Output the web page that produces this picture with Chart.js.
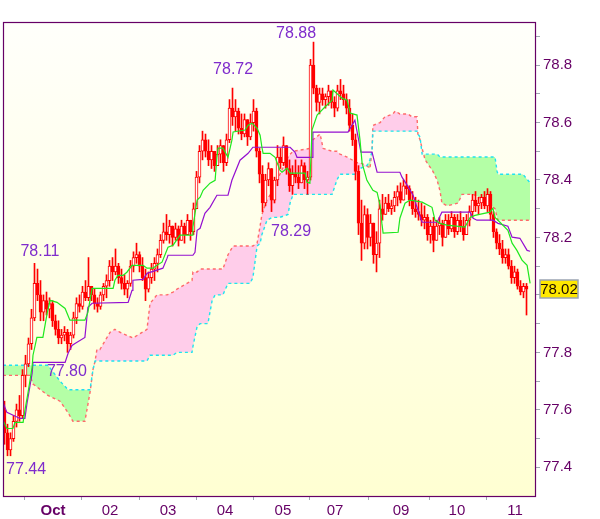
<!DOCTYPE html>
<html>
<head>
<meta charset="utf-8">
<title>Ichimoku</title>
<script src="https://cdn.jsdelivr.net/npm/chart.js@4.4.1/dist/chart.umd.min.js"></script>
<style>
    html, body { margin: 0; padding: 0; background: #ffffff; }
    canvas { display: block; }
</style>
</head>
<body>
<canvas id="ichimoku" width="600" height="519"></canvas>
<script>

/* =========================
   DATA (hourly bars)
========================= */

const opens = [
    77.60, 77.52, 77.46, 77.50, 77.56, 77.60, 77.58, 77.72, 77.76, 77.83,
    77.92, 78.04, 78.00, 77.94, 77.98, 77.95, 77.97, 77.91, 77.88, 77.85,
    77.86, 77.87, 77.83, 77.86, 77.92, 77.97, 77.96, 78.01, 77.99, 78.03,
    78.00, 77.97, 77.96, 78.00, 78.03, 78.05, 78.10, 78.08, 78.10, 78.06,
    78.04, 78.02, 78.04, 78.10, 78.13, 78.14, 78.10, 78.06, 78.02, 78.06,
    78.09, 78.11, 78.14, 78.19, 78.22, 78.21, 78.24, 78.20, 78.23, 78.19,
    78.24, 78.21, 78.26, 78.22, 78.30, 78.41, 78.50, 78.54, 78.50, 78.47,
    78.50, 78.45, 78.49, 78.52, 78.46, 78.54, 78.65, 78.62, 78.64, 78.58,
    78.56, 78.61, 78.55, 78.60, 78.64, 78.50, 78.42, 78.32, 78.40, 78.44,
    78.33, 78.40, 78.48, 78.46, 78.52, 78.44, 78.38, 78.42, 78.41, 78.39,
    78.45, 78.40, 78.41, 78.80, 78.72, 78.67, 78.70, 78.68, 78.69, 78.71,
    78.67, 78.65, 78.71, 78.70, 78.68, 78.65, 78.59, 78.54, 78.43, 78.25,
    78.18, 78.28, 78.20, 78.25, 78.14, 78.18, 78.30, 78.28, 78.32, 78.30,
    78.31, 78.34, 78.36, 78.33, 78.38, 78.37, 78.33, 78.30, 78.29, 78.28,
    78.26, 78.27, 78.21, 78.24, 78.19, 78.24, 78.25, 78.20, 78.26, 78.23,
    78.27, 78.22, 78.26, 78.24, 78.21, 78.26, 78.29, 78.33, 78.31, 78.32,
    78.34, 78.31, 78.35, 78.28, 78.22, 78.18, 78.16, 78.13, 78.14, 78.10,
    78.06, 78.08, 78.03, 78.01, 78.03
];

const highs = [
    77.63, 77.55, 77.52, 77.58, 77.62, 77.65, 77.74, 77.79, 77.85, 77.95,
    78.11, 78.09, 78.05, 78.00, 78.01, 77.99, 77.98, 77.93, 77.91, 77.88,
    77.89, 77.88, 77.87, 77.94, 77.99, 78.00, 78.03, 78.05, 78.13, 78.03,
    78.02, 77.99, 78.01, 78.04, 78.07, 78.12, 78.13, 78.16, 78.11, 78.09,
    78.07, 78.05, 78.12, 78.15, 78.18, 78.15, 78.13, 78.09, 78.08, 78.11,
    78.13, 78.16, 78.21, 78.25, 78.28, 78.26, 78.24, 78.25, 78.24, 78.26,
    78.25, 78.28, 78.26, 78.32, 78.43, 78.52, 78.57, 78.56, 78.54, 78.52,
    78.50, 78.52, 78.54, 78.52, 78.56, 78.68, 78.72, 78.68, 78.65, 78.63,
    78.63, 78.61, 78.63, 78.68, 78.65, 78.51, 78.45, 78.42, 78.46, 78.44,
    78.41, 78.52, 78.51, 78.55, 78.52, 78.47, 78.45, 78.47, 78.45, 78.47,
    78.46, 78.43, 78.82, 78.88, 78.73, 78.72, 78.72, 78.70, 78.73, 78.71,
    78.69, 78.73, 78.75, 78.73, 78.70, 78.68, 78.63, 78.56, 78.45, 78.33,
    78.31, 78.30, 78.28, 78.25, 78.22, 78.33, 78.35, 78.34, 78.35, 78.33,
    78.36, 78.38, 78.39, 78.40, 78.42, 78.38, 78.36, 78.34, 78.33, 78.32,
    78.31, 78.28, 78.26, 78.27, 78.26, 78.27, 78.26, 78.28, 78.28, 78.29,
    78.28, 78.28, 78.29, 78.27, 78.28, 78.31, 78.35, 78.36, 78.34, 78.35,
    78.36, 78.37, 78.36, 78.29, 78.23, 78.21, 78.19, 78.16, 78.16, 78.12,
    78.10, 78.09, 78.05, 78.04, 78.04
];

const lows = [
    77.48, 77.44, 77.44, 77.49, 77.54, 77.56, 77.57, 77.68, 77.75, 77.81,
    77.91, 77.98, 77.91, 77.91, 77.93, 77.92, 77.89, 77.86, 77.83, 77.83,
    77.84, 77.80, 77.81, 77.85, 77.90, 77.94, 77.95, 77.98, 77.98, 77.98,
    77.95, 77.94, 77.95, 77.98, 77.99, 78.03, 78.05, 78.07, 78.04, 78.02,
    78.00, 77.99, 78.03, 78.08, 78.11, 78.08, 78.05, 77.98, 78.01, 78.04,
    78.05, 78.08, 78.13, 78.18, 78.19, 78.18, 78.17, 78.19, 78.17, 78.19,
    78.18, 78.21, 78.19, 78.21, 78.30, 78.39, 78.47, 78.48, 78.45, 78.44,
    78.43, 78.45, 78.46, 78.43, 78.45, 78.53, 78.59, 78.57, 78.56, 78.54,
    78.55, 78.52, 78.54, 78.57, 78.48, 78.39, 78.29, 78.31, 78.38, 78.29,
    78.32, 78.38, 78.44, 78.45, 78.42, 78.36, 78.35, 78.39, 78.37, 78.39,
    78.37, 78.35, 78.40, 78.70, 78.64, 78.63, 78.66, 78.65, 78.66, 78.65,
    78.62, 78.64, 78.68, 78.66, 78.63, 78.57, 78.52, 78.40, 78.21, 78.12,
    78.16, 78.16, 78.17, 78.11, 78.08, 78.13, 78.26, 78.28, 78.29, 78.28,
    78.29, 78.31, 78.32, 78.33, 78.35, 78.31, 78.28, 78.27, 78.26, 78.24,
    78.23, 78.19, 78.18, 78.15, 78.19, 78.21, 78.17, 78.20, 78.21, 78.22,
    78.20, 78.21, 78.22, 78.19, 78.21, 78.24, 78.27, 78.29, 78.28, 78.30,
    78.30, 78.29, 78.26, 78.20, 78.16, 78.14, 78.11, 78.11, 78.09, 78.04,
    78.04, 78.02, 78.00, 77.99, 77.93
];

const closes = [
    77.52, 77.46, 77.50, 77.56, 77.60, 77.58, 77.72, 77.76, 77.83, 77.92,
    78.04, 78.00, 77.94, 77.98, 77.95, 77.97, 77.91, 77.88, 77.85, 77.86,
    77.87, 77.83, 77.86, 77.92, 77.97, 77.96, 78.01, 77.99, 78.03, 78.00,
    77.97, 77.96, 78.00, 78.03, 78.05, 78.10, 78.08, 78.10, 78.06, 78.04,
    78.02, 78.04, 78.10, 78.13, 78.14, 78.10, 78.06, 78.02, 78.06, 78.09,
    78.11, 78.14, 78.19, 78.22, 78.21, 78.24, 78.20, 78.23, 78.19, 78.24,
    78.21, 78.26, 78.22, 78.30, 78.41, 78.50, 78.54, 78.50, 78.47, 78.50,
    78.45, 78.49, 78.52, 78.46, 78.54, 78.65, 78.62, 78.64, 78.58, 78.56,
    78.61, 78.55, 78.60, 78.64, 78.50, 78.42, 78.32, 78.40, 78.44, 78.33,
    78.40, 78.48, 78.46, 78.52, 78.44, 78.38, 78.42, 78.41, 78.39, 78.45,
    78.40, 78.41, 78.80, 78.72, 78.67, 78.70, 78.68, 78.69, 78.71, 78.67,
    78.65, 78.71, 78.70, 78.68, 78.65, 78.59, 78.54, 78.43, 78.25, 78.18,
    78.28, 78.20, 78.25, 78.14, 78.18, 78.30, 78.28, 78.32, 78.30, 78.31,
    78.34, 78.36, 78.33, 78.38, 78.37, 78.33, 78.30, 78.29, 78.28, 78.26,
    78.27, 78.21, 78.24, 78.19, 78.24, 78.25, 78.20, 78.26, 78.23, 78.27,
    78.22, 78.26, 78.24, 78.21, 78.26, 78.29, 78.33, 78.31, 78.32, 78.34,
    78.31, 78.35, 78.28, 78.22, 78.18, 78.16, 78.13, 78.14, 78.10, 78.06,
    78.08, 78.03, 78.01, 78.03, 78.02
];

/* Tenkan-sen (green) */
const tenkanX = [
    0, 1.3, 3.3, 4, 6.7, 7.3, 8.3, 9.7, 10, 11.3, 13.3, 14.7, 15.7, 18, 20.7, 22.3,
    27.3, 28.3, 29.7, 36.7, 37.3, 38.3, 40, 41.3, 43, 46.7, 48, 50, 51.3, 53, 55,
    56.7, 59, 63, 63.3, 64.7, 65.7, 66.7, 69, 70.7, 71.3, 71.7, 73.3, 75, 76.3,
    76.7, 80.7, 81.7, 83, 84.7, 85.7, 86.3, 86.7, 89, 90.7, 92.3, 93, 94.7, 95.7,
    100.7, 101.3, 102.3, 103, 104.7, 107.3, 109.7, 110, 113, 114.7, 115.7, 118,
    119, 119.7, 121.3, 123.3, 124.7, 125.7, 126.3, 126.7, 131.7, 132.3, 134,
    135.7, 139.7, 143, 144, 145.7, 148, 154, 155.7, 157.3, 162.3, 163.3, 164,
    165, 168.3, 169.7, 171.3, 173, 174.7, 175.7
];
const tenkan = [
    77.563, 77.535, 77.535, 77.556, 77.556, 77.598, 77.657, 77.748, 77.790, 77.852,
    77.852, 77.936, 77.981, 77.974, 77.953, 77.912, 77.912, 77.939, 78.023, 78.023,
    78.051, 78.068, 78.068, 78.079, 78.103, 78.103, 78.093, 78.093, 78.103, 78.114,
    78.166, 78.173, 78.208, 78.208, 78.236, 78.330, 78.340, 78.364, 78.389, 78.399,
    78.479, 78.511, 78.511, 78.479, 78.539, 78.567, 78.574, 78.591, 78.598, 78.580,
    78.556, 78.514, 78.493, 78.493, 78.479, 78.434, 78.427, 78.441, 78.424, 78.424,
    78.392, 78.389, 78.574, 78.626, 78.654, 78.678, 78.713, 78.685, 78.678, 78.633,
    78.626, 78.539, 78.459, 78.399, 78.364, 78.357, 78.312, 78.249, 78.215, 78.218,
    78.267, 78.319, 78.330, 78.323, 78.305, 78.260, 78.249, 78.243, 78.236, 78.270,
    78.277, 78.288, 78.302, 78.270, 78.260, 78.225, 78.180, 78.155, 78.121, 78.103,
    78.040
];

/* Kijun-sen (purple) */
const kijunX = [
    0, 1.3, 5.7, 7.3, 8, 9.7, 10, 20.7, 21.7, 23, 24, 27.3, 28.3, 29.7, 41.7, 43,
    43.3, 46.7, 48, 53.3, 54.7, 55, 63.3, 64, 64.7, 65.7, 67.3, 69, 71.3, 75, 76.3,
    79, 81.7, 83.3, 95.7, 97.3, 98, 103, 103.3, 115, 117.3, 119.3, 123, 124.7,
    132.3, 133, 134.7, 136.7, 138, 139.7, 144.7, 146.3, 155.7, 156.7, 158, 163.3,
    165, 168.3, 169.7, 172.3, 174.7, 175.7
];
const kijun = [
    77.626, 77.591, 77.570, 77.570, 77.622, 77.727, 77.765, 77.765, 77.797, 77.824,
    77.831, 77.852, 77.957, 77.971, 77.974, 78.016, 78.051, 78.054, 78.075, 78.093,
    78.128, 78.138, 78.138, 78.148, 78.225, 78.232, 78.284, 78.305, 78.347, 78.347,
    78.399, 78.469, 78.493, 78.514, 78.514, 78.497, 78.479, 78.479, 78.567, 78.567,
    78.608, 78.497, 78.497, 78.427, 78.427, 78.410, 78.382, 78.347, 78.305, 78.253,
    78.253, 78.288, 78.288, 78.267, 78.260, 78.260, 78.249, 78.239, 78.201, 78.197,
    78.155, 78.152
];

/* Senkou span A / B (cloud) */
const cloudX = [
    0, 9, 10, 15, 19, 21.7, 23.3, 27.3, 29, 30, 30.7, 31.3, 32.3, 35.7, 37.3, 39,
    43.3, 48, 49, 51.3, 54.7, 56.7, 58, 63, 63.3, 64.7, 65.7, 68.3, 69.7, 70.7,
    73.3, 75, 76.7, 82.3, 83.3, 84.7, 85.7, 86.3, 88, 89.7, 92.3, 95, 95.7, 96.7,
    102.3, 103.3, 105.7, 106.7, 109.7, 111.3, 112.3, 114.7, 118, 119, 121.3, 122.3,
    123, 123.3, 125.7, 127.3, 130, 130.7, 132.3, 135, 136.3, 138, 138.3, 139,
    139.7, 140.7, 143.3, 144.7, 145.7, 146.3, 148, 151.7, 153, 156.7, 160.7, 164,
    164.7, 165, 173.3, 175.7
];
const spanA = [
    77.72, 77.72, 77.69, 77.65, 77.63, 77.59, 77.56, 77.56, 77.66, 77.74,
    77.77, 77.81, 77.81, 77.87, 77.88, 77.87, 77.85, 77.88, 77.97, 78.00,
    78.00, 78.01, 78.02, 78.05, 78.08, 78.08, 78.09, 78.09, 78.09, 78.09,
    78.09, 78.14, 78.17, 78.17, 78.17, 78.18, 78.24, 78.28, 78.33, 78.36,
    78.42, 78.48, 78.49, 78.50, 78.51, 78.54, 78.56, 78.51, 78.50, 78.50,
    78.49, 78.48, 78.46, 78.46, 78.45, 78.44, 78.50, 78.59, 78.60, 78.62,
    78.63, 78.64, 78.63, 78.63, 78.62, 78.62, 78.56, 78.54, 78.51, 78.47,
    78.43, 78.40, 78.36, 78.32, 78.31, 78.32, 78.35, 78.35, 78.33, 78.30,
    78.27, 78.26, 78.26, 78.26
];
const spanB = [
    77.755, 77.755, 77.755, 77.755, 77.70, 77.67, 77.67, 77.67, 77.67, 77.74,
    77.77, 77.77, 77.77, 77.77, 77.77, 77.77, 77.77, 77.77, 77.79, 77.79,
    77.79, 77.79, 77.80, 77.80, 77.82, 77.89, 77.90, 77.90, 77.98, 78.00,
    78.00, 78.04, 78.04, 78.04, 78.06, 78.17, 78.18, 78.21, 78.26, 78.27,
    78.27, 78.28, 78.32, 78.35, 78.35, 78.35, 78.35, 78.35, 78.35, 78.40,
    78.42, 78.42, 78.42, 78.44, 78.45, 78.47, 78.50, 78.57, 78.57, 78.57,
    78.57, 78.57, 78.57, 78.57, 78.57, 78.57, 78.56, 78.55, 78.49, 78.49,
    78.49, 78.49, 78.48, 78.48, 78.48, 78.48, 78.48, 78.48, 78.48, 78.48,
    78.43, 78.42, 78.42, 78.39
];

/* axes */
const xTickPos = [16.7, 35.7, 55, 74, 93.3, 110.7, 132.7, 151.3, 170.7];
const xTickLabels = ["Oct", "02", "03", "04", "05", "07", "09", "10", "11"];

const yTicks = [77.4, 77.5, 77.6, 77.7, 77.8, 77.9, 78.0, 78.1, 78.2, 78.3, 78.4, 78.5, 78.6, 78.7, 78.8, 78.9];
const yTickLabels = ["77.4", "", "77.6", "", "77.8", "", "", "", "78.2", "", "78.4", "", "78.6", "", "78.8", ""];

/* high / low notes: [x, price] where the text sits */
const noteText = ["78.88", "78.72", "78.11", "78.29", "77.80", "77.44"];
const noteAt = [[97.7, 78.911], [76.7, 78.786], [12.3, 78.152], [96, 78.222], [21.3, 77.734], [7.7, 77.392]];

/* =========================
   DATASETS
========================= */

function points(xs, ys) {
    return xs.map((x, i) => ({ x: x, y: ys[i] }));
}

const wicks = highs.map((h, i) => ({ x: i + 0.5, y: [lows[i], h] }));
const bodies = opens.map((o, i) => ({ x: i + 0.5, y: [o, closes[i]] }));
const bodyFill = opens.map((o, i) => closes[i] >= o ? "#ffffff" : "#ff0000");

const datasets = [
    {
        type: "line",
        data: points(cloudX, spanA),
        borderColor: "#ff6a6a",
        borderWidth: 1.4,
        borderDash: [3, 3],
        pointRadius: 0,
        tension: 0,
        fill: { target: "+1", above: "#ffcdea", below: "#b4ffa6" },
        order: 6
    },
    {
        type: "line",
        data: points(cloudX, spanB),
        borderColor: "#1fe3f0",
        borderWidth: 1.4,
        borderDash: [3, 3],
        pointRadius: 0,
        tension: 0,
        fill: false,
        order: 5
    },
    {
        type: "bar",
        data: wicks,
        backgroundColor: "#ff0000",
        borderWidth: 0,
        barThickness: 1,
        grouped: false,
        order: 4
    },
    {
        type: "bar",
        data: bodies,
        backgroundColor: bodyFill,
        borderColor: "#ff0000",
        borderWidth: 1,
        borderSkipped: false,
        barThickness: 3,
        minBarLength: 1,
        grouped: false,
        order: 3
    },
    {
        type: "line",
        data: points(kijunX, kijun),
        borderColor: "#9410d0",
        borderWidth: 1.2,
        pointRadius: 0,
        tension: 0,
        fill: false,
        order: 2
    },
    {
        type: "line",
        data: points(tenkanX, tenkan),
        borderColor: "#1ee81e",
        borderWidth: 1.2,
        pointRadius: 0,
        tension: 0,
        fill: false,
        order: 1
    }
];

/* =========================
   PLUGIN: background, frame, notes
========================= */

const framePlugin = {
    id: "frame",

    beforeDraw(chart) {
        const { ctx, chartArea: a } = chart;
        const g = ctx.createLinearGradient(0, a.top, 0, a.bottom);
        g.addColorStop(0, "#fffffb");
        g.addColorStop(1, "#ffffd2");
        ctx.save();
        ctx.fillStyle = g;
        ctx.fillRect(a.left, a.top, a.right - a.left, a.bottom - a.top);
        ctx.restore();
    },

    afterDraw(chart) {
        const { ctx, chartArea: a } = chart;
        const xs = chart.scales.x;
        const ys = chart.scales.y;

        ctx.save();

        // frame
        ctx.strokeStyle = "#660066";
        ctx.lineWidth = 1.2;
        ctx.strokeRect(a.left + 0.5, a.top + 0.5, a.right - a.left, a.bottom - a.top);

        // high / low notes
        ctx.font = "16px 'Liberation Sans', Arial, sans-serif";
        ctx.fillStyle = "#7f2ccc";
        ctx.textAlign = "center";
        ctx.textBaseline = "middle";
        noteText.forEach((t, i) => {
            ctx.fillText(t, xs.getPixelForValue(noteAt[i][0]), ys.getPixelForValue(noteAt[i][1]));
        });

        // last price box
        const last = closes[closes.length - 1];
        const py = Math.round(ys.getPixelForValue(last));
        ctx.fillStyle = "#ffe800";
        ctx.fillRect(a.right + 5, py - 9, 38, 18);
        ctx.strokeStyle = "#9aa4b2";
        ctx.lineWidth = 1.5;
        ctx.strokeRect(a.right + 5, py - 9, 38, 18);
        ctx.fillStyle = "#1a0a00";
        ctx.font = "15px 'Liberation Sans', Arial, sans-serif";
        ctx.fillText(last.toFixed(2), a.right + 24, py + 1);

        ctx.restore();
    }
};

/* =========================
   CHART
========================= */

new Chart(document.getElementById("ichimoku"), {

    type: "bar",

    data: { datasets: datasets },

    options: {
        responsive: false,
        animation: false,
        layout: { padding: { left: 3, top: 22, right: 0, bottom: 0 } },
        plugins: {
            legend: { display: false },
            tooltip: { enabled: false }
        },
        scales: {
            x: {
                type: "linear",
                min: 0,
                max: 177.33,
                offset: false,
                border: { display: false },
                grid: { drawOnChartArea: false, tickLength: 4, color: "#a0a8b2" },
                afterBuildTicks: s => { s.ticks = xTickPos.map(v => ({ value: v })); },
                afterFit: s => { s.height = 23; },
                ticks: {
                    autoSkip: false,
                    maxRotation: 0,
                    padding: 2,
                    color: "#660066",
                    font: c => ({
                        family: "'Liberation Sans', Arial, sans-serif",
                        size: 15,
                        weight: c.index === 0 ? "bold" : "normal"
                    }),
                    callback: (v, i) => xTickLabels[i]
                }
            },
            y: {
                position: "right",
                min: 77.30,
                max: 78.95,
                border: { display: false },
                grid: { drawOnChartArea: false, tickLength: 5, color: "#a0a8b2" },
                afterBuildTicks: s => { s.ticks = yTicks.map(v => ({ value: v })); },
                afterFit: s => { s.width = 65; },
                ticks: {
                    autoSkip: false,
                    padding: 3,
                    color: "#660066",
                    font: { family: "'Liberation Sans', Arial, sans-serif", size: 15 },
                    callback: (v, i) => yTickLabels[i]
                }
            }
        }
    },

    plugins: [framePlugin]

});

</script>
</body>
</html>
